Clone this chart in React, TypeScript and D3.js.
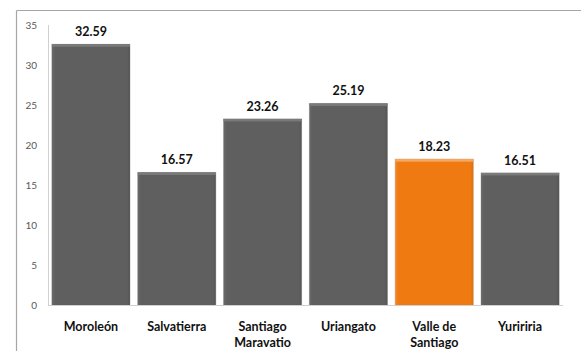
import React from "react";
import * as d3 from "d3";

const categories: string[][] = [
  ["Moroleón"],
  ["Salvatierra"],
  ["Santiago", "Maravatio"],
  ["Uriangato"],
  ["Valle de", "Santiago"],
  ["Yuririria"],
];
const values: number[] = [32.59, 16.57, 23.26, 25.19, 18.23, 16.51];
const highlightIndex = 4;
const yTicks: number[] = [0, 5, 10, 15, 20, 25, 30, 35];

export default function App() {
  const W = 581, H = 351;
  const left = 48, right = 563, top = 25, bottom = 305;
  const x = d3.scaleBand<number>().domain(values.map((_, i) => i)).range([left, right]).paddingInner(0.09).paddingOuter(0.045);
  const y = d3.scaleLinear().domain([0, 35]).range([bottom, top]);
  const font = "Lato, 'Open Sans', sans-serif";
  return (
    <div style={{ position: "fixed", left: 0, top: 0 }}>
      <svg width={W} height={H} style={{ display: "block" }}>
        <defs>
          <linearGradient id="gGray" x1="0" y1="0" x2="1" y2="0">
            <stop offset="0" stopColor="#6a6a6a" />
            <stop offset="0.04" stopColor="#5f5f5f" />
            <stop offset="0.96" stopColor="#5f5f5f" />
            <stop offset="1" stopColor="#555" />
          </linearGradient>
          <linearGradient id="gOrange" x1="0" y1="0" x2="1" y2="0">
            <stop offset="0" stopColor="#f28a2a" />
            <stop offset="0.04" stopColor="#ef7a12" />
            <stop offset="0.96" stopColor="#ef7a12" />
            <stop offset="1" stopColor="#e06e0a" />
          </linearGradient>
        </defs>
        <rect x={0} y={0} width={W} height={H} fill="#fff" />
        <line x1={16.5} y1={10.5} x2={W} y2={10.5} stroke="#a6a6a6" strokeWidth={1.2} />
        <line x1={16.5} y1={10.5} x2={16.5} y2={H} stroke="#a6a6a6" strokeWidth={1.2} />
        <line x1={left + 0.5} y1={top} x2={left + 0.5} y2={bottom} stroke="#d0d0d0" />
        <line x1={left} y1={bottom + 0.5} x2={right} y2={bottom + 0.5} stroke="#d0d0d0" />
        {yTicks.map((t) => (
          <text key={t} x={37} y={y(t)} dy="0.35em" textAnchor="end" fontSize={10} fill="#595959" fontFamily={font}>
            {t}
          </text>
        ))}
        {values.map((v, i) => {
          const bx = x(i)!;
          const bw = x.bandwidth();
          const by = y(v);
          const isH = i === highlightIndex;
          return (
            <g key={i}>
              <rect x={bx - 0.5} y={by - 0.5} width={bw + 1} height={bottom - by + 0.5} fill="#cfcfcf" />
              <rect x={bx} y={by} width={bw} height={bottom - by} fill={isH ? "url(#gOrange)" : "url(#gGray)"} />
              <rect x={bx} y={by} width={bw} height={2.5} fill={isH ? "#f6a860" : "#7a7a7a"} />
              <text x={bx + bw / 2} y={by - 8} textAnchor="middle" fontSize={12.5} fontWeight="bold" fill="#111" fontFamily={font}>
                {v.toFixed(2)}
              </text>
              {categories[i].map((line, j) => (
                <text key={j} x={bx + bw / 2} y={331 + j * 16} textAnchor="middle" fontSize={12.5} fontWeight="bold" fill="#111" fontFamily={font}>
                  {line}
                </text>
              ))}
            </g>
          );
        })}
      </svg>
    </div>
  );
}
